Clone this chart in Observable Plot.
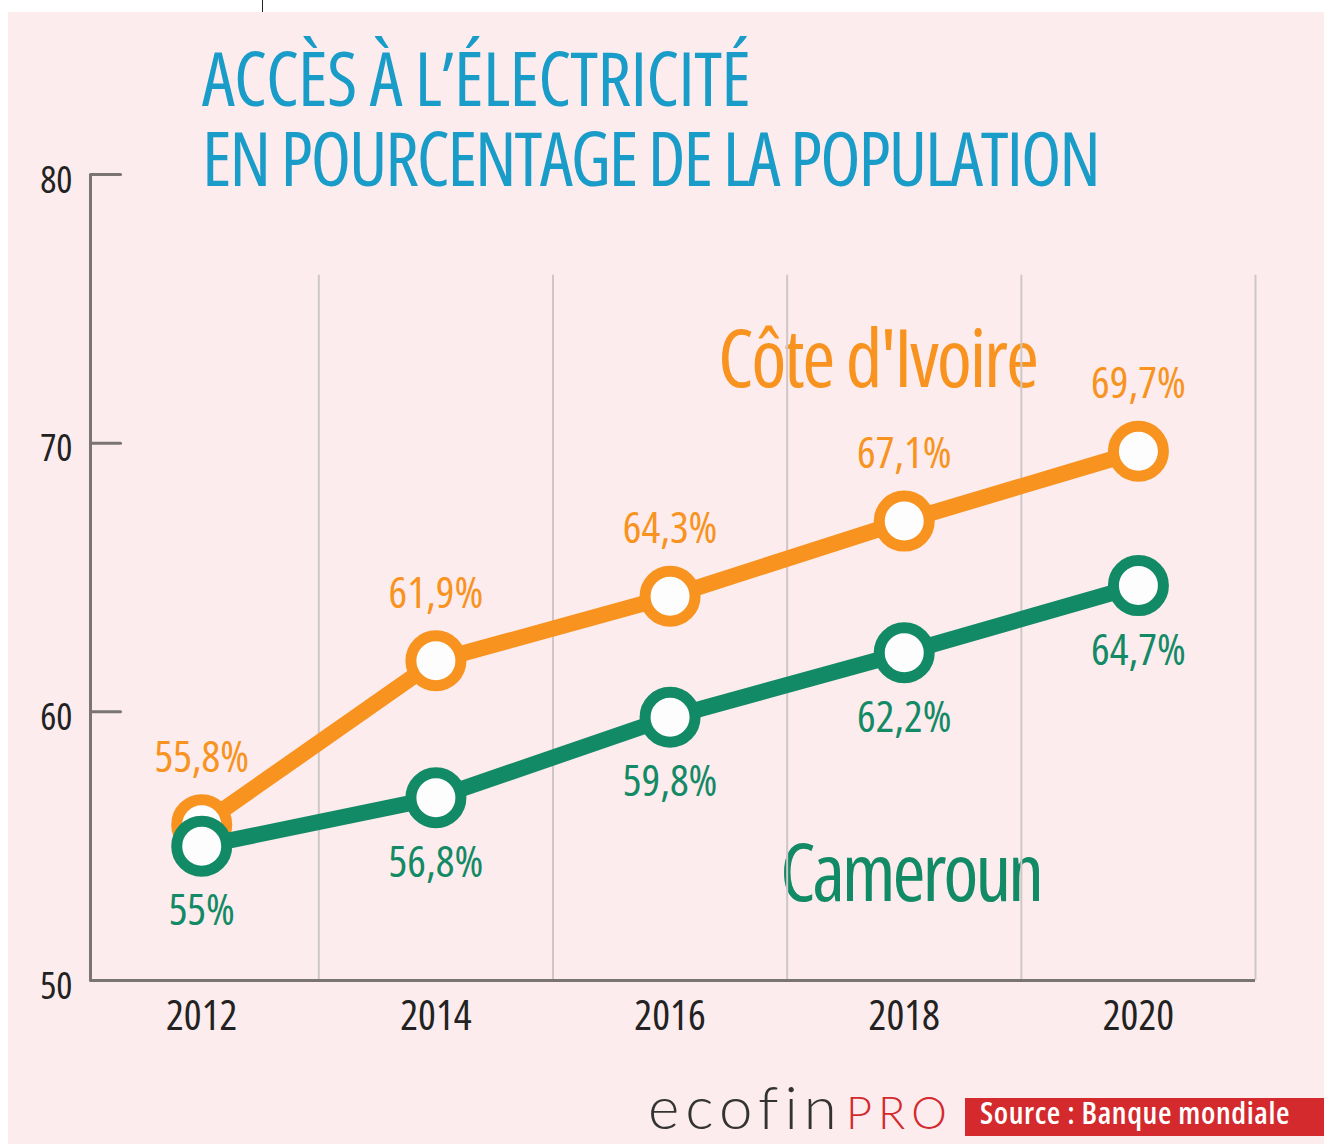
<!DOCTYPE html>
<html><head><meta charset="utf-8">
<script src="https://cdn.jsdelivr.net/npm/d3@7"></script>
<script src="https://cdn.jsdelivr.net/npm/@observablehq/plot@0.6"></script>
<style>
body{margin:0;background:#fff;}
#wrap{position:relative;width:1324px;height:1144px;overflow:hidden;}
#bg{position:absolute;left:8px;top:12px;right:0;bottom:0;background:#fdeced;}
#mark{position:absolute;left:262px;top:0;width:1px;height:12px;background:#222;}
#chart{position:absolute;left:0;top:0;}
.narrow, #chart svg, #chart svg text{font-family:"Open Sans",sans-serif;font-stretch:condensed;}
.abs{position:absolute;white-space:nowrap;line-height:1;}
#t1,#t2{color:#1a9cc9;font-size:74px;left:202px;line-height:60px;height:60px;}
#t1{top:48px;letter-spacing:-0.7px;}
#t2{top:128px;letter-spacing:-2.1px;}
#civ{color:#f7931e;font-size:80px;left:718px;top:316px;letter-spacing:-2.2px;}
#cmr{color:#138a66;font-size:80px;left:780px;top:830px;font-weight:420;letter-spacing:-3.2px;}
#ecofin{font-family:Lato,sans-serif;font-weight:300;color:#333;font-size:60px;left:648px;top:1076px;letter-spacing:6px;}
#pro{font-family:Lato,sans-serif;font-weight:300;color:#d42a2e;font-size:45px;left:846px;top:1090px;letter-spacing:6px;}
#src{left:965px;top:1098px;width:359px;height:38px;background:#d42a2e;color:#fff;font-size:31px;font-weight:600;}
#src span{position:absolute;left:15px;top:-1px;letter-spacing:0.6px;}
</style>
</head><body>
<div id="wrap">
  <div id="bg"></div>
  <div id="mark"></div>
  <div id="t1" class="abs narrow">ACCÈS À L’ÉLECTRICITÉ</div>
  <div id="t2" class="abs narrow">EN POURCENTAGE DE LA POPULATION</div>
  <div id="civ" class="abs narrow">Côte d'Ivoire</div>
  <div id="cmr" class="abs narrow">Cameroun</div>
  <div id="chart"></div>
  <div id="ecofin" class="abs">ecofin</div>
  <div id="pro" class="abs">PRO</div>
  <div id="src" class="abs narrow"><span>Source : Banque mondiale</span></div>
</div>
<script>
// ---- data ----
const years = [2012, 2014, 2016, 2018, 2020];
const civValues = [55.8, 61.9, 64.3, 67.1, 69.7];
const cmrValues = [55.0, 56.8, 59.8, 62.2, 64.7];
const civLabels = ["55,8%", "61,9%", "64,3%", "67,1%", "69,7%"];
const cmrLabels = ["55%", "56,8%", "59,8%", "62,2%", "64,7%"];
const yTicks = [50, 60, 70, 80];
const xTickLabels = ["2012", "2014", "2016", "2018", "2020"];
const gridYears = [2013, 2015, 2017, 2019, 2021];

const ORANGE = "#f7931e", GREEN = "#138a66", AXIS = "#7a7474", GRID = "#cfc7c7";
const FONT = '"Open Sans",sans-serif';
const xStart = 2011.05, gridTop = 76.25;

const civ = years.map((x, i) => ({x, y: civValues[i], label: civLabels[i]}));
const cmr = years.map((x, i) => ({x, y: cmrValues[i], label: cmrLabels[i]}));
const tickShape = {draw(ctx, l) { ctx.moveTo(0, 0); ctx.lineTo(0, -l); }};

const chart = Plot.plot({
  width: 1324, height: 1144,
  marginLeft: 90, marginRight: 69, marginTop: 174, marginBottom: 164,
  style: {background: "transparent", fontFamily: FONT, color: "#222", overflow: "visible"},
  x: {domain: [xStart, 2021], axis: null},
  y: {domain: [50, 80], axis: null},
  marks: [
    Plot.ruleX(gridYears, {y1: 50, y2: gridTop, stroke: GRID, strokeWidth: 2}),
    Plot.ruleX([xStart], {y1: 50, y2: 80, stroke: AXIS, strokeWidth: 3}),
    Plot.ruleY([50], {stroke: AXIS, strokeWidth: 3}),
    Plot.vector(yTicks, {x: xStart, y: d => d, length: 30, rotate: 90, anchor: "start", shape: tickShape, stroke: AXIS, strokeWidth: 3}),
    Plot.axisY(yTicks, {tickSize: 0, tickPadding: 18, fontSize: 38, dy: 6, label: null}),
    Plot.axisX(years, {tickSize: 0, tickPadding: 20, fontSize: 42, label: null, tickFormat: (d, i) => xTickLabels[i]}),
    Plot.line(civ, {x: "x", y: "y", stroke: ORANGE, strokeWidth: 16}),
    Plot.dot(civ, {x: "x", y: "y", r: 25, fill: "#fdfdfd", stroke: ORANGE, strokeWidth: 11}),
    Plot.line(cmr, {x: "x", y: "y", stroke: GREEN, strokeWidth: 16}),
    Plot.dot(cmr, {x: "x", y: "y", r: 25, fill: "#fdfdfd", stroke: GREEN, strokeWidth: 11}),
    Plot.text(civ, {x: "x", y: "y", text: "label", dy: -67, fill: ORANGE, fontSize: 44}),
    Plot.text(cmr, {x: "x", y: "y", text: "label", dy: 65, fill: GREEN, fontSize: 44})
  ]
});
document.getElementById("chart").appendChild(chart);
</script>
</body></html>
